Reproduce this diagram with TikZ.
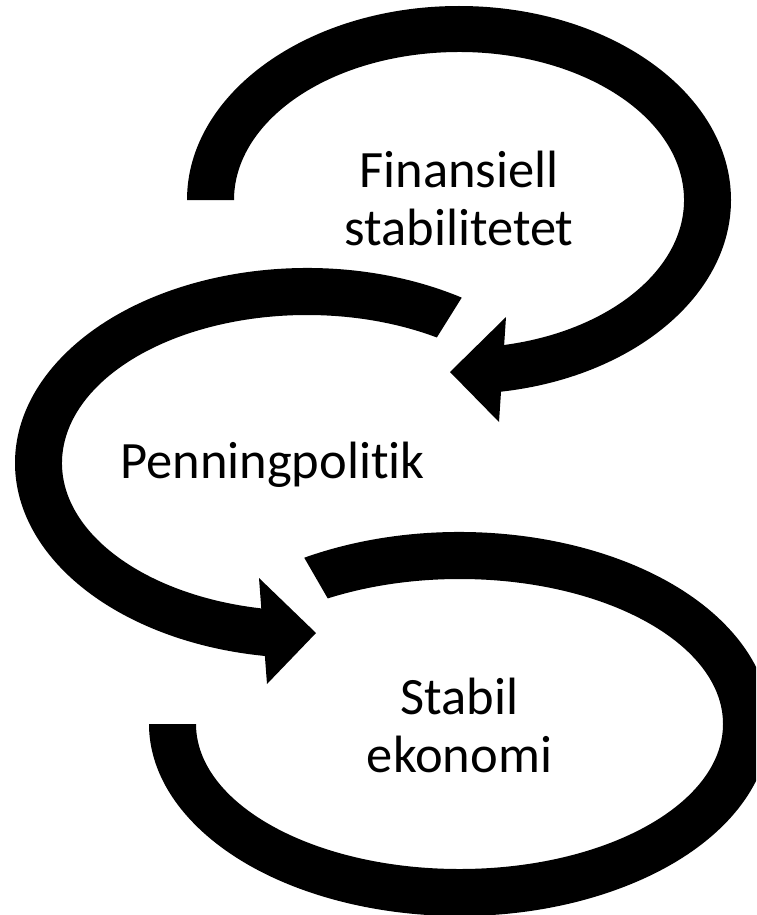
\documentclass[tikz,border=0pt]{standalone}
\usepackage{fontspec}
\setmainfont{Carlito}[Ligatures={NoCommon,NoContextual},Contextuals=NoAlternate]
\usetikzlibrary{calc}
\begin{document}
\begin{tikzpicture}[x=1pt,y=1pt,
  lbl/.style={font=\fontsize{52.5}{58}\selectfont, align=center, inner sep=0pt, anchor=base},
  band/.style={fill=black}]
\useasboundingbox (0,0) rectangle (756,-915);
\clip (0,0) rectangle (756,-915);
\coordinate (cA) at (459,-200);
\coordinate (cB) at (307,-463);
\coordinate (cC) at (459.5,-724);
% top arc with arrow
\fill[band] ($(cA)+(180:272pt and 194pt)$) arc[start angle=180,end angle=-83,x radius=272pt,y radius=194pt]
  -- ($(cA)+(-83:225pt and 148pt)$) arc[start angle=-83,end angle=180,x radius=225pt,y radius=148pt] -- cycle;
\fill[band] (506,-317) -- (450,-372) -- (499,-422) -- cycle;
% middle arc with arrow
\fill[band] ($(cB)+(58:292pt and 195pt)$) arc[start angle=58,end angle=263,x radius=292pt,y radius=195pt]
  -- ($(cB)+(263:245pt and 148pt)$) arc[start angle=263,end angle=58,x radius=245pt,y radius=148pt] -- cycle;
\fill[band] (259,-578) -- (316,-633) -- (267,-684) -- cycle;
% bottom arc
\fill[band] ($(cC)+(120:310.5pt and 192pt)$) arc[start angle=120,end angle=-180,x radius=310.5pt,y radius=192pt]
  -- ($(cC)+(180:263.5pt and 145pt)$) arc[start angle=-180,end angle=120,x radius=263.5pt,y radius=145pt] -- cycle;
% labels (base anchor = baseline of the last line)
\node[lbl] (fin) at (459,-245) {Finansiell\\stabilitetet};
\node[lbl] (pen) at (272.5,-478) {Penningpolitik};
\node[lbl] (sta) at (459.5,-772) {Stabil\\ekonomi};
\end{tikzpicture}
\end{document}
